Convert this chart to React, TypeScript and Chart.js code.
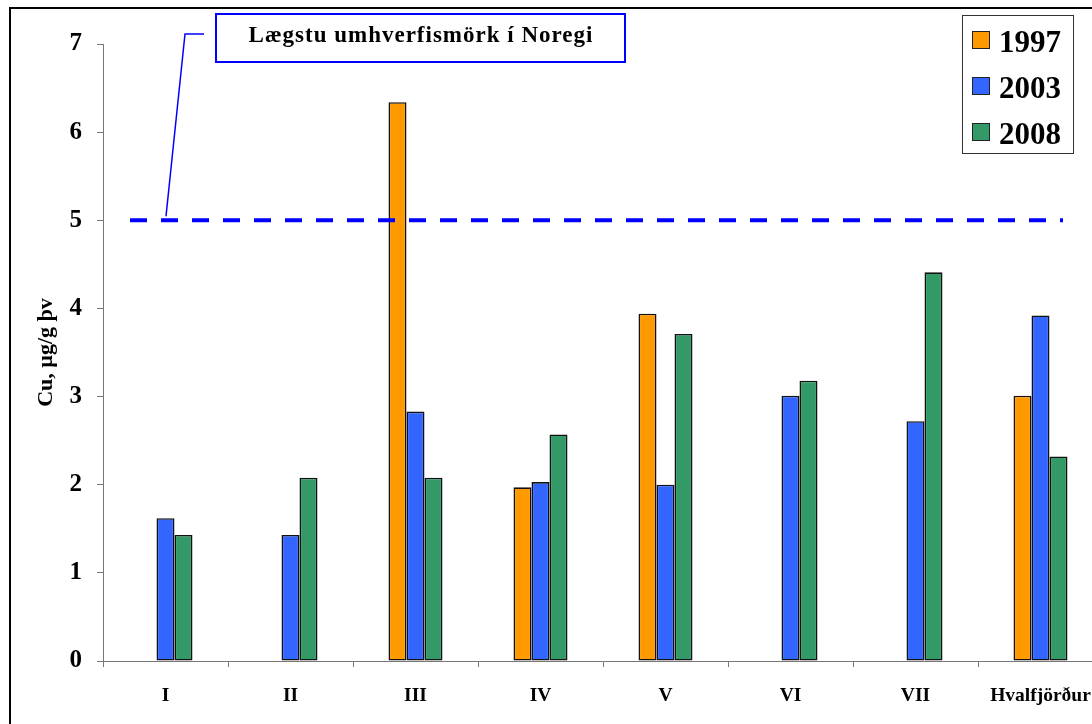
import React, { useEffect, useRef } from "react";
import { Chart, registerables } from "chart.js";

Chart.register(...registerables);

const categories = ["I", "II", "III", "IV", "V", "VI", "VII", "Hvalfjörður"];
const seriesLabels = ["1997", "2003", "2008"];
const values1997 = [null, null, 6.34, 1.97, 3.94, null, null, 3.01];
const values2003 = [1.62, 1.43, 2.83, 2.03, 2.0, 3.01, 2.72, 3.92];
const values2008 = [1.43, 2.08, 2.08, 2.57, 3.71, 3.18, 4.41, 2.32];
const seriesColors = ["#FF9900", "#3366FF", "#339966"];
const yAxisTitle = "Cu, µg/g þv";
const yMin = 0;
const yMax = 7;
const thresholdValue = 5;
const thresholdLabel = "Lægstu umhverfismörk í Noregi";

const FONT = "'Liberation Serif', 'Times New Roman', serif";

const overlayPlugin = {
  id: "overlay",
  afterDatasetsDraw(chart: any) {
    const { ctx } = chart;
    const xs = chart.scales.x;
    const ys = chart.scales.y;
    const catW = xs.getPixelForValue(1) - xs.getPixelForValue(0);
    const yT = ys.getPixelForValue(thresholdValue);
    ctx.save();
    ctx.strokeStyle = "#0000FF";
    ctx.lineWidth = 4;
    ctx.setLineDash([17, 14]);
    ctx.beginPath();
    ctx.moveTo(xs.getPixelForValue(0) - 0.284 * catW, yT);
    ctx.lineTo(xs.getPixelForValue(categories.length - 1) + 0.18 * catW, yT);
    ctx.stroke();
    ctx.restore();
  },
  afterDraw(chart: any) {
    const { ctx } = chart;
    const xs = chart.scales.x;
    const ys = chart.scales.y;
    const yT = ys.getPixelForValue(thresholdValue);
    ctx.save();
    ctx.strokeStyle = "#000";
    ctx.lineWidth = 2;
    ctx.strokeRect(10, 8, 3000, 3000);

    ctx.strokeStyle = "#0000FF";
    ctx.lineWidth = 1.5;
    ctx.beginPath();
    ctx.moveTo(204, 34);
    ctx.lineTo(185, 34);
    ctx.lineTo(xs.getPixelForValue(0) + 0.5, yT - 4);
    ctx.stroke();
    ctx.lineWidth = 2;
    ctx.strokeRect(216, 14, 409, 48);
    ctx.fillStyle = "#000";
    ctx.font = `bold 23px ${FONT}`;
    (ctx as any).letterSpacing = "1px";
    ctx.textAlign = "center";
    ctx.textBaseline = "alphabetic";
    ctx.fillText(thresholdLabel, 421, 42);
    (ctx as any).letterSpacing = "0px";

    ctx.strokeStyle = "#333";
    ctx.lineWidth = 1;
    ctx.strokeRect(962.5, 15.5, 111, 138);
    ctx.font = `bold 31px ${FONT}`;
    ctx.textAlign = "left";
    seriesLabels.forEach((lab, i) => {
      const y = 31 + i * 46;
      ctx.fillStyle = seriesColors[i];
      ctx.fillRect(972, y, 18, 18);
      ctx.strokeStyle = "#222";
      ctx.strokeRect(972.5, y + 0.5, 17, 17);
      ctx.fillStyle = "#000";
      ctx.fillText(lab, 999, y + 21);
    });
    ctx.restore();
  },
};

export default function App() {
  const ref = useRef<HTMLCanvasElement>(null);
  useEffect(() => {
    document.body.style.margin = "0";
    document.body.style.overflow = "hidden";
    const data = [values1997, values2003, values2008];
    const chart = new Chart(ref.current!, {
      type: "bar",
      data: {
        labels: categories,
        datasets: seriesLabels.map((label, i) => ({
          label,
          data: data[i] as any,
          backgroundColor: seriesColors[i],
          borderColor: "#111",
          borderWidth: 1.6,
          borderSkipped: false,
          categoryPercentage: 0.432,
          barPercentage: 1,
        })),
      },
      options: {
        responsive: false,
        animation: false,
        layout: { padding: { top: 44, right: 27, left: 0, bottom: 0 } },
        plugins: {
          legend: { display: false },
          tooltip: { enabled: false },
        },
        scales: {
          x: {
            grid: {
              drawOnChartArea: false,
              tickLength: 6,
              color: "#777",
              offset: true,
            },
            border: { color: "#777", width: 1 },
            ticks: {
              font: { family: FONT, size: 19.5, weight: "bold" },
              color: "#000",
              padding: 17,
              maxRotation: 0,
              autoSkip: false,
            },
            afterFit: (s: any) => {
              s.height = 79;
            },
          },
          y: {
            min: yMin,
            max: yMax,
            grid: { drawOnChartArea: false, tickLength: 6, color: "#777" },
            border: { color: "#777", width: 1 },
            ticks: {
              stepSize: 1,
              font: { family: FONT, size: 25, weight: "bold" },
              color: "#000",
              padding: 15,
            },
            title: {
              display: true,
              text: yAxisTitle,
              font: { family: FONT, size: 22, weight: "bold" },
              color: "#000",
              padding: { top: 33, bottom: 0 },
            },
            afterFit: (s: any) => {
              s.width = 103;
            },
          },
        },
      },
      plugins: [overlayPlugin],
    });
    return () => chart.destroy();
  }, []);
  return (
    <canvas
      ref={ref}
      width={1130}
      height={740}
      style={{ display: "block", width: 1130, height: 740 }}
    />
  );
}
